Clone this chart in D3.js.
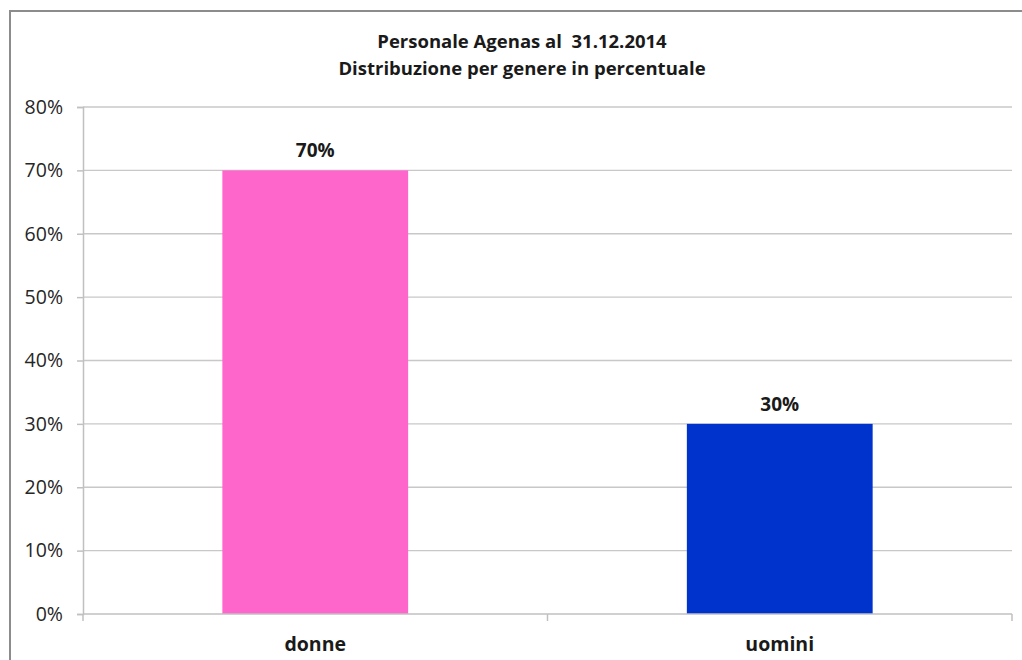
<!DOCTYPE html>
<html>
<head>
<meta charset="utf-8">
<script src="https://cdn.jsdelivr.net/npm/d3@7"></script>
<style>
  body { margin: 0; background: #fff; }
  text { font-family: "Open Sans", "Liberation Sans", sans-serif; }
</style>
</head>
<body>
<div class="chart"></div>
<script>
let width = 1022
let height = 660

// data
let categories = ['donne', 'uomini']
let values = [0.70, 0.30]
let barColors = ['#ff66cc', '#0033cc']
let yTicks = [0, 0.1, 0.2, 0.3, 0.4, 0.5, 0.6, 0.7, 0.8]
let titleLines = ['Personale Agenas al  31.12.2014', 'Distribuzione per genere in percentuale']

let plot = { left: 83, right: 1012, top: 107, bottom: 614 }

let svg = d3.select('div.chart')
    .append('svg')
    .attr('width', width)
    .attr('height', height)

// outer chart frame (runs off the right and bottom edge)
svg.append('rect')
    .attr('x', 10)
    .attr('y', 11)
    .attr('width', 1030)
    .attr('height', 700)
    .style('fill', 'none')
    .style('stroke', '#8c8c8c')
    .style('stroke-width', 2)

let x = d3.scaleBand()
    .domain(categories)
    .range([plot.left, plot.right])
    .paddingInner(0.6)
    .paddingOuter(0.3)

let y = d3.scaleLinear()
    .domain([0, 0.8])
    .range([plot.bottom, plot.top])

// gridlines
svg.append('g')
    .selectAll('line')
    .data(yTicks.filter(d => d > 0))
    .enter()
    .append('line')
    .attr('x1', plot.left)
    .attr('x2', plot.right)
    .attr('y1', d => y(d))
    .attr('y2', d => y(d))
    .style('stroke', '#c8c8c8')
    .style('stroke-width', 1.3)

// y axis
let yAxis = svg.append('g')
    .attr('transform', `translate(${plot.left},0)`)
    .call(d3.axisLeft(y).tickValues(yTicks).tickFormat(d3.format('.0%')).tickSize(6).tickPadding(14))
yAxis.select('.domain').style('stroke', '#c0c0c0').style('stroke-width', 1.5)
yAxis.selectAll('.tick line').style('stroke', '#c0c0c0').style('stroke-width', 1.5)
yAxis.selectAll('.tick text')
    .style('font-size', '19.5px')
    .style('fill', '#262626')

// bars
svg.append('g')
    .selectAll('rect')
    .data(values)
    .enter()
    .append('rect')
    .attr('x', (d, i) => x(categories[i]))
    .attr('width', x.bandwidth())
    .attr('y', d => y(d))
    .attr('height', d => y(0) - y(d))
    .style('fill', (d, i) => barColors[i])

// value labels
svg.append('g')
    .selectAll('text')
    .data(values)
    .enter()
    .append('text')
    .attr('x', (d, i) => x(categories[i]) + x.bandwidth() / 2)
    .attr('y', d => y(d) - 13)
    .attr('text-anchor', 'middle')
    .style('font-size', '19px')
    .style('font-weight', 'bold')
    .style('fill', '#1a1a1a')
    .text(d => d3.format('.0%')(d))

// x axis
let step = (plot.right - plot.left) / categories.length
let xAxis = svg.append('g')
svg.append('line')
    .attr('x1', plot.left).attr('x2', plot.right)
    .attr('y1', plot.bottom).attr('y2', plot.bottom)
    .style('stroke', '#c0c0c0').style('stroke-width', 1.5)
xAxis.selectAll('line')
    .data(d3.range(categories.length + 1))
    .enter()
    .append('line')
    .attr('x1', d => plot.left + d * step)
    .attr('x2', d => plot.left + d * step)
    .attr('y1', plot.bottom)
    .attr('y2', plot.bottom + 7)
    .style('stroke', '#c0c0c0')
    .style('stroke-width', 1.5)
xAxis.selectAll('text')
    .data(categories)
    .enter()
    .append('text')
    .attr('x', d => x(d) + x.bandwidth() / 2)
    .attr('y', 651)
    .attr('text-anchor', 'middle')
    .style('font-size', '19.5px')
    .style('font-weight', 'bold')
    .style('fill', '#1a1a1a')
    .text(d => d)

// title
svg.append('g')
    .selectAll('text')
    .data(titleLines)
    .enter()
    .append('text')
    .attr('x', 522)
    .attr('y', (d, i) => 48 + i * 27)
    .attr('text-anchor', 'middle')
    .attr('xml:space', 'preserve')
    .style('white-space', 'pre')
    .style('font-size', '18.5px')
    .style('font-weight', 'bold')
    .style('fill', '#1a1a1a')
    .text(d => d)
</script>
</body>
</html>
